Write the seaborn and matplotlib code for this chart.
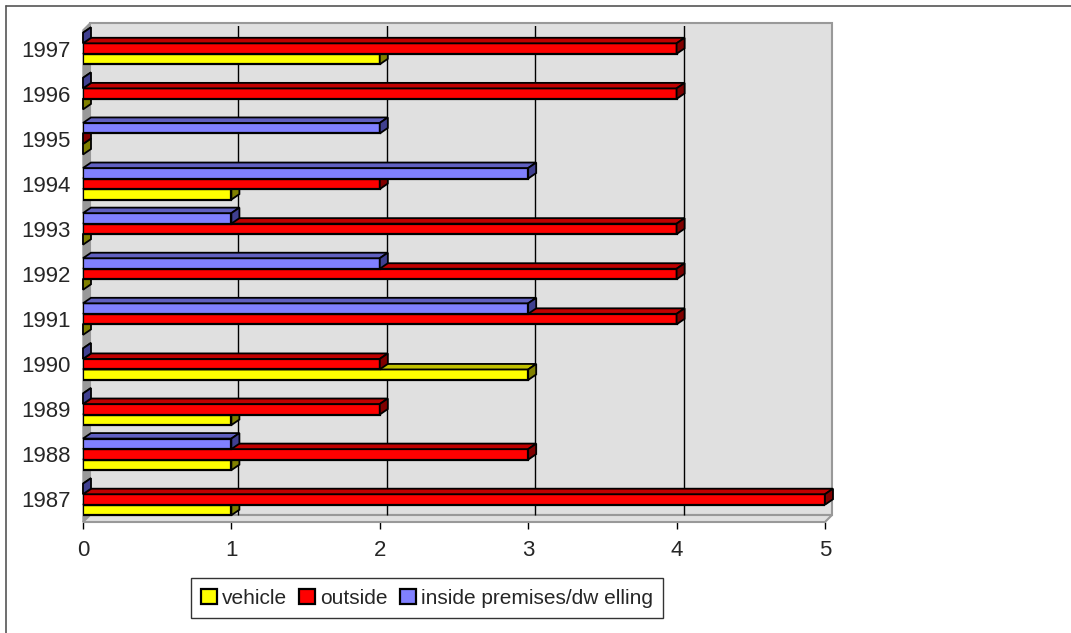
import matplotlib.pyplot as plt
import matplotlib.patches as mpatches
from matplotlib.lines import Line2D
from matplotlib.transforms import ScaledTranslation
import pandas as pd
import seaborn as sns

years = ["1997", "1996", "1995", "1994", "1993", "1992", "1991", "1990", "1989", "1988", "1987"]
vehicle = [2, 0, 0, 1, 0, 0, 0, 3, 1, 1, 1]
outside = [4, 4, 0, 2, 4, 4, 4, 2, 2, 3, 5]
inside = [0, 0, 2, 3, 1, 2, 3, 0, 0, 1, 0]

legend_order = ["vehicle", "outside", "inside premises/dw elling"]
hue_order = legend_order[::-1]  # top bar in each group is "inside"
colors = {"vehicle": "#FFFF00", "outside": "#FF0000", "inside premises/dw elling": "#8080FF"}
top_faces = {"vehicle": "#C0C000", "outside": "#C00000", "inside premises/dw elling": "#6060C0"}
side_faces = {"vehicle": "#808000", "outside": "#800000", "inside premises/dw elling": "#404090"}

df = pd.DataFrame({
    "year": years * 3,
    "count": vehicle + outside + inside,
    "type": ["vehicle"] * 11 + ["outside"] * 11 + ["inside premises/dw elling"] * 11,
})

sns.set_theme(style="white")
plt.rcParams["font.family"] = ["Liberation Sans", "DejaVu Sans"]

W, H = 1071, 633
fig = plt.figure(figsize=(W / 100, H / 100), dpi=100)
ax = fig.add_axes([83 / W, 1 - 522 / H, 742 / W, 496 / H])
ax.set_facecolor("none")

sns.barplot(data=df, x="count", y="year", hue="type", order=years, hue_order=hue_order,
            palette=colors, saturation=1, width=0.70, orient="h", errorbar=None,
            edgecolor="black", linewidth=1.6, legend=False, ax=ax)

ax.set_xlim(0, 5)
ax.set_ylim(10.5, -0.5)
ax.set_xticks(range(6))
ax.set_xlabel("")
ax.set_ylabel("")
for s in ax.spines.values():
    s.set_visible(False)
ax.tick_params(axis="x", bottom=True, length=5, width=1, color="black", labelsize=16, pad=8)
ax.tick_params(axis="y", left=False, labelsize=16, pad=3)

# 3D walls (in axes fractions: 742 px wide, 496 px tall)
d = (7 / 742, 7 / 496)
back = mpatches.Rectangle(d, 1, 492 / 496, transform=ax.transAxes,
                          facecolor="#E0E0E0", edgecolor="#999999", linewidth=1.5, zorder=0, clip_on=False)
ax.add_patch(back)
left_wall = mpatches.Polygon([(0, 0), (0, 492 / 496), (d[0], 499 / 496), d],
                             closed=True, transform=ax.transAxes, facecolor="#999999",
                             edgecolor="#999999", zorder=1, clip_on=False)
ax.add_patch(left_wall)
floor = mpatches.Polygon([(0, 0), (1, 0), (1 + d[0], d[1]), d],
                         closed=True, transform=ax.transAxes, facecolor="#E0E0E0",
                         edgecolor="#999999", linewidth=1.5, zorder=1, clip_on=False)
ax.add_patch(floor)

shift = ScaledTranslation(0.07, 0, fig.dpi_scale_trans)
ax.vlines([1, 2, 3, 4], d[1], 499 / 496, transform=ax.get_xaxis_transform() + shift,
          color="black", linewidth=1, zorder=1)

# bar depth faces
dx, dy = 8, 5.5
inv = ax.transData.inverted()
for cont, name in zip(ax.containers, hue_order):
    z = 3 + hue_order[::-1].index(name)
    for bar in cont:
        bar.set_zorder(z)
        x0, y0 = bar.get_x(), bar.get_y()
        x1, y1 = x0 + bar.get_width(), y0 + bar.get_height()
        (px0, py_top), (px1, py_bot) = ax.transData.transform([(x0, y0), (x1, y1)])
        top = [(px0, py_top), (px1, py_top), (px1 + dx, py_top + dy), (px0 + dx, py_top + dy)]
        side = [(px1, py_bot), (px1, py_top), (px1 + dx, py_top + dy), (px1 + dx, py_bot + dy)]
        for pts, fc in ((top, top_faces[name]), (side, side_faces[name])):
            poly = mpatches.Polygon(inv.transform(pts), closed=True, facecolor=fc,
                                    edgecolor="black", linewidth=1.3, zorder=z, clip_on=False)
            ax.add_patch(poly)

handles = [mpatches.Patch(facecolor=colors[n], edgecolor="black", linewidth=1.6) for n in legend_order]
leg = fig.legend(handles, legend_order, loc="center", bbox_to_anchor=(427 / W, 1 - 598 / H),
                 ncol=3, frameon=True, fancybox=False, fontsize=15, handlelength=0.75,
                 handleheight=0.75, handletextpad=0.25, columnspacing=0.6, borderpad=0.5)
leg.get_frame().set_edgecolor("black")
leg.get_frame().set_linewidth(1.0)

# chart border
fig.add_artist(Line2D([6 / W, 1], [1 - 6 / H, 1 - 6 / H], transform=fig.transFigure, color="#555555", lw=1.2))
fig.add_artist(Line2D([6 / W, 6 / W], [0, 1 - 6 / H], transform=fig.transFigure, color="#555555", lw=1.2))

fig.savefig("out.png", dpi=100)
